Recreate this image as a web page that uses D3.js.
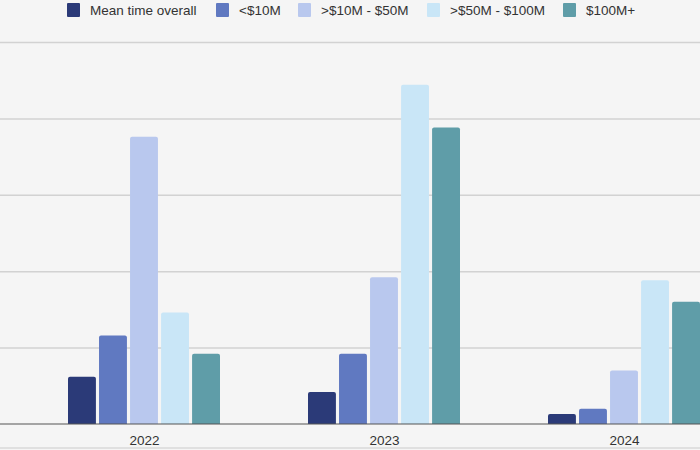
<!DOCTYPE html>
<html>
<head>
<meta charset="utf-8">
<script src="https://cdn.jsdelivr.net/npm/d3@7"></script>
<style>
html,body{margin:0;padding:0;background:#f5f5f5;}
svg{display:block;font-family:"Liberation Sans",Arial,Helvetica,sans-serif;}
</style>
</head>
<body>
<svg id="chart" width="700" height="450"></svg>
<script>
const years = ["2022", "2023", "2024"];
const seriesNames = ["Mean time overall", "<$10M", ">$10M - $50M", ">$50M - $100M", "$100M+"];
const meanOverall = [31, 21, 6.5];
const under10M = [58, 46, 10];
const from10to50M = [188, 96, 35];
const from50to100M = [73, 222, 94];
const over100M = [46, 194, 80];
const yTicks = [0, 50, 100, 150, 200, 250];
const colors = ["#2b3a78", "#6079c1", "#b9c8ee", "#c9e6f7", "#5f9da8"];

const seriesValues = [meanOverall, under10M, from10to50M, from50to100M, over100M];

const svg = d3.select("#chart");
const W = 700, H = 450;
svg.append("rect").attr("width", W).attr("height", H).attr("fill", "#f5f5f5");

const y = d3.scaleLinear().domain([0, 250]).range([424, 42]);
const x0 = d3.scalePoint().domain(years).range([144, 624]);
const x1 = d3.scaleBand().domain(seriesNames).range([-76, 76]).paddingInner(0.1);

// gridlines
const yAxis = d3.axisLeft(y).tickValues(yTicks.slice(1)).tickSize(-W).tickFormat("");
const gy = svg.append("g").call(yAxis);
gy.select(".domain").remove();
gy.selectAll(".tick line").attr("stroke", "#d2d2d2").attr("stroke-width", 1.5);

// bottom frame line
svg.append("line").attr("x1", 0).attr("x2", W).attr("y1", 448).attr("y2", 448)
  .attr("stroke", "#d8d8d8").attr("stroke-width", 1.5);

// bars
function barPath(x, yTop, w, h, r) {
  r = Math.min(r, h, w / 2);
  return `M${x},${yTop + h}V${yTop + r}Q${x},${yTop} ${x + r},${yTop}H${x + w - r}Q${x + w},${yTop} ${x + w},${yTop + r}V${yTop + h}Z`;
}
const data = [];
years.forEach((yr, i) => {
  seriesNames.forEach((s, j) => data.push({ year: yr, series: s, value: seriesValues[j][i], color: colors[j] }));
});
svg.append("g").selectAll("path").data(data).join("path")
  .attr("d", d => {
    const bx = x0(d.year) + x1(d.series);
    const top = y(d.value);
    return barPath(bx, top, x1.bandwidth(), y(0) - top, 2);
  })
  .attr("fill", d => d.color);

// x axis
const xAxis = d3.axisBottom(x0).tickSize(0).tickPadding(11);
const gx = svg.append("g").attr("transform", `translate(0,${y(0)})`).call(xAxis);
gx.select(".domain").remove();
gx.selectAll("text").attr("font-size", 13.5).attr("fill", "#333")
  .attr("font-family", "Liberation Sans, Arial, sans-serif");
svg.append("line").attr("x1", 0).attr("x2", W).attr("y1", y(0)).attr("y2", y(0))
  .attr("stroke", "#555").attr("stroke-width", 1.2);

// legend
const legendX = [67, 216, 298, 427, 563];
const lg = svg.append("g");
seriesNames.forEach((s, j) => {
  lg.append("rect").attr("x", legendX[j]).attr("y", 3).attr("width", 13).attr("height", 14)
    .attr("rx", 1).attr("fill", colors[j]);
  lg.append("text").attr("x", legendX[j] + 23).attr("y", 15)
    .attr("font-size", 13.5).attr("fill", "#333").text(s);
});
</script>
</body>
</html>
